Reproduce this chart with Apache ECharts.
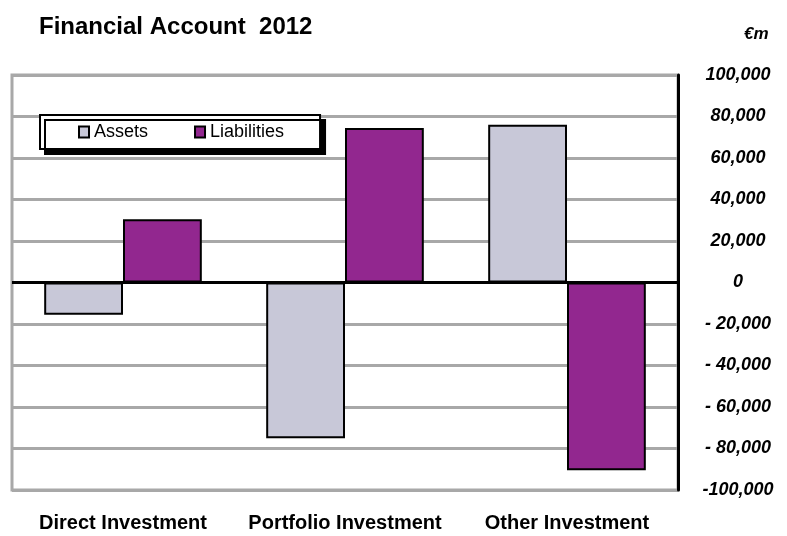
<!DOCTYPE html>
<html><head><meta charset="utf-8">
<script src="https://cdn.jsdelivr.net/npm/echarts@6/dist/echarts.min.js"></script>
<style>html,body{margin:0;padding:0;background:#fff}#c{width:787px;height:536px}</style>
</head><body><div id="c"></div>
<script>
const categories = ['Direct Investment', 'Portfolio Investment', 'Other Investment'];
const assets = [-15500, -75000, 76000];
const liabilities = [30500, 74500, -90500];
const yTicks = [-100000, -80000, -60000, -40000, -20000, 0, 20000, 40000, 60000, 80000, 100000];

function fmt(v) {
  const s = Math.abs(v).toLocaleString('en-US');
  if (v === 0) return '0';
  if (v < 0) return (Math.abs(v) >= 100000 ? '-' : '- ') + s;
  return s;
}

const chart = echarts.init(document.getElementById('c'));
chart.setOption({
  animation: false,
  title: {
    text: 'Financial Account  2012', left: 34, top: 10,
    textStyle: { fontFamily: 'Liberation Sans', fontWeight: 'bold', fontSize: 24, color: '#000' }
  },
  graphic: [{
    type: 'text', left: 744, top: 26,
    style: { text: '€m', font: 'italic bold 17px "Liberation Sans"', fill: '#000' }
  }],
  legend: {
    left: 40, top: 115,
    data: ['Assets', 'Liabilities'],
    icon: 'rect',
    itemWidth: 10, itemHeight: 11, itemGap: 46,
    padding: [8, 36, 8, 38],
    backgroundColor: '#fff', borderColor: '#000', borderWidth: 2,
    shadowColor: '#000', shadowOffsetX: 5, shadowOffsetY: 5, shadowBlur: 0,
    textStyle: { fontFamily: 'Liberation Sans', fontSize: 18, color: '#000' },
    itemStyle: { borderColor: '#000', borderWidth: 2 }
  },
  grid: {
    left: 12, right: 109, top: 75, bottom: 46,
    show: true, borderColor: '#a8a8a8', borderWidth: 3, backgroundColor: '#fff'
  },
  xAxis: {
    type: 'category', data: categories, position: 'bottom',
    axisLine: { show: false, onZero: false }, axisTick: { show: false },
    axisLabel: { interval: 0, hideOverlap: false, margin: 23, fontFamily: 'Liberation Sans', fontWeight: 'bold', fontSize: 20, color: '#000' }
  },
  yAxis: {
    type: 'value', position: 'right', min: -100000, max: 100000, interval: 20000,
    axisLine: { show: true, lineStyle: { color: '#000', width: 3 } },
    axisTick: { show: false },
    splitLine: { show: true, lineStyle: { color: '#a8a8a8', width: 3 } },
    axisLabel: {
      margin: 60, align: 'center', formatter: fmt,
      fontFamily: 'Liberation Sans', fontWeight: 'bold', fontStyle: 'italic', fontSize: 18, color: '#000'
    }
  },
  series: [
    {
      name: 'Assets', type: 'bar', data: assets, barGap: '0%', barCategoryGap: '29%',
      itemStyle: { color: '#c8c8d8', borderColor: '#000', borderWidth: 2 },
      markLine: {
        silent: true, symbol: 'none', label: { show: false },
        lineStyle: { color: '#000', width: 3, type: 'solid' },
        data: [{ yAxis: 0 }], z: 1
      }
    },
    {
      name: 'Liabilities', type: 'bar', data: liabilities,
      itemStyle: { color: '#92278f', borderColor: '#000', borderWidth: 2 }
    }
  ]
});
</script></body></html>
